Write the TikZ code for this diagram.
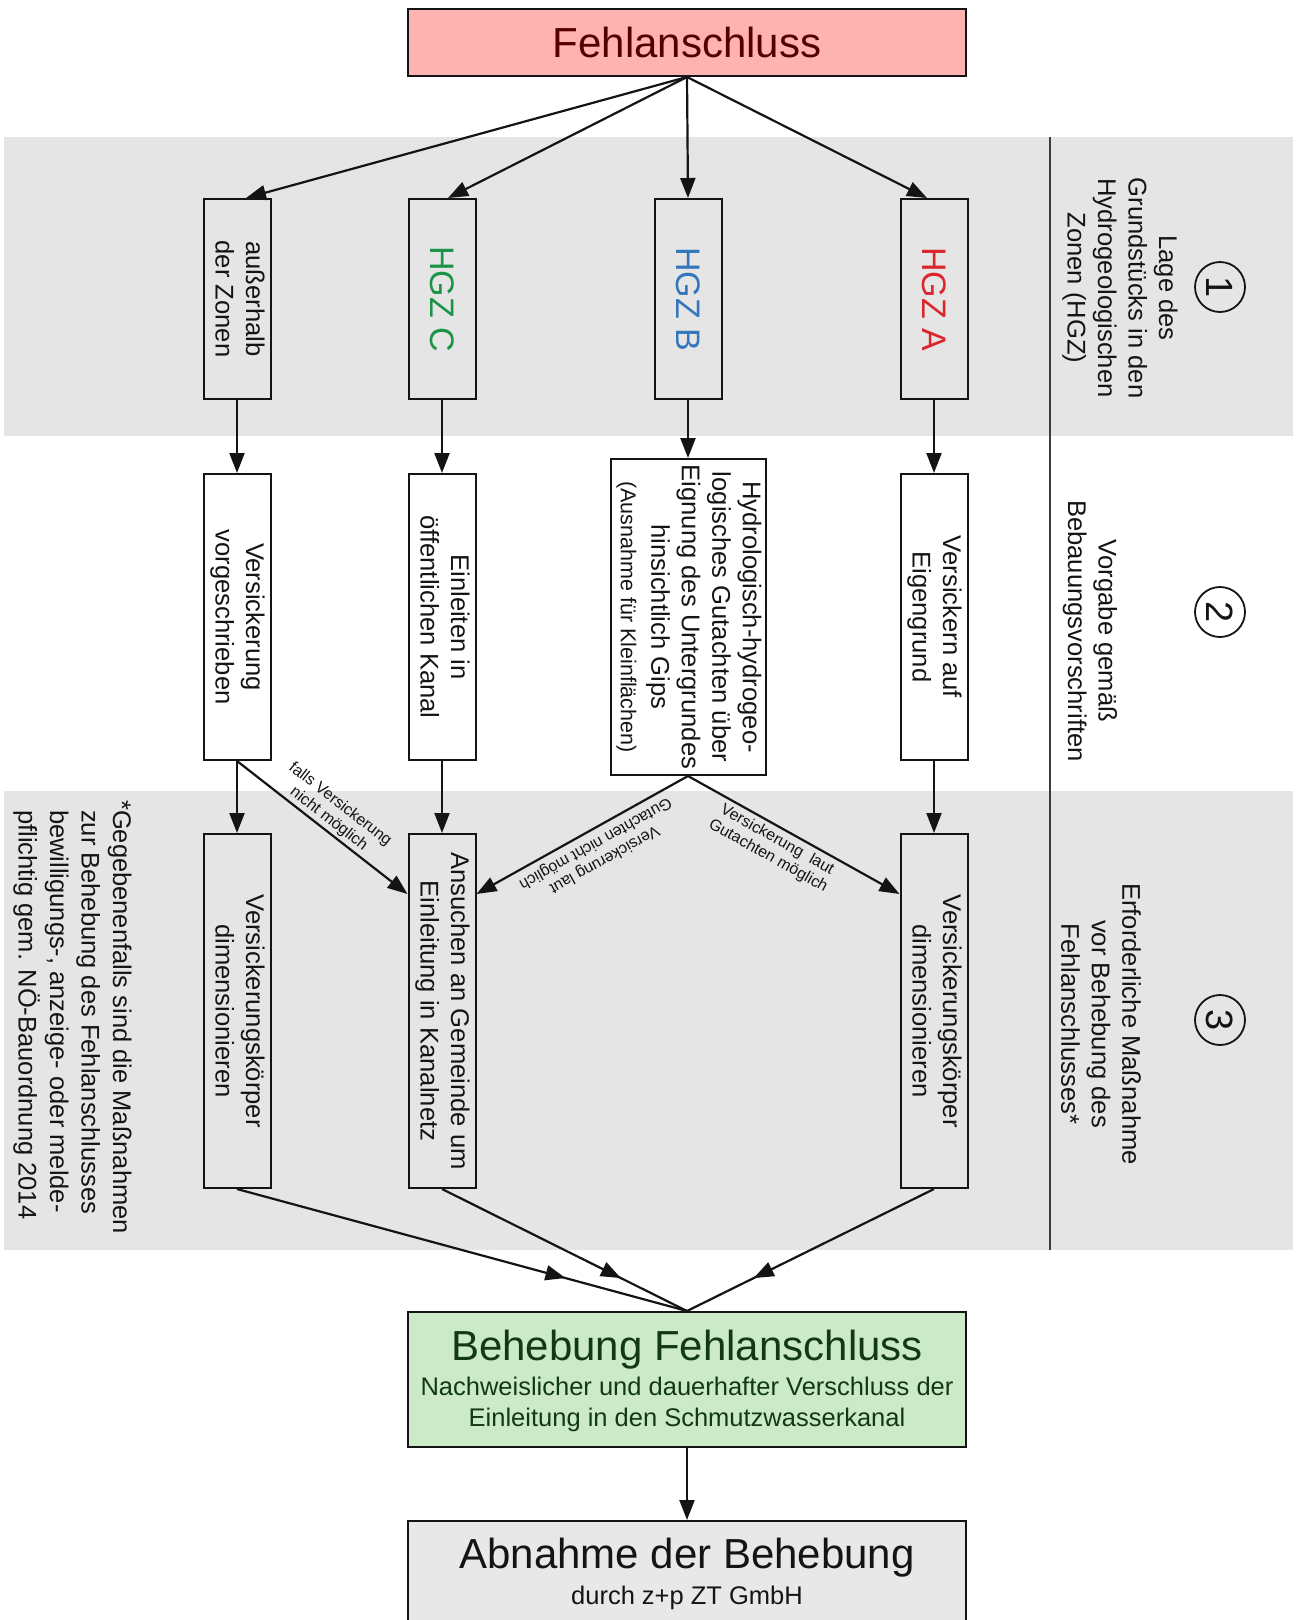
\documentclass[tikz,border=0pt]{standalone}
\usepackage{fontspec}
\setmainfont{Liberation Sans}
\usepackage{graphicx}
\usetikzlibrary{arrows.meta,decorations.markings}
\definecolor{bandgray}{RGB}{229,229,229}
\definecolor{pinkfill}{RGB}{255,178,178}
\definecolor{pinktext}{RGB}{85,0,0}
\definecolor{greenfill}{RGB}{205,234,200}
\definecolor{greentext}{RGB}{18,58,18}
\definecolor{abngray}{RGB}{232,232,232}
\definecolor{linec}{RGB}{20,20,20}
\definecolor{sepc}{RGB}{60,60,60}
\definecolor{hgzA}{RGB}{218,38,44}
\definecolor{hgzB}{RGB}{52,118,188}
\definecolor{hgzC}{RGB}{28,148,70}
\definecolor{txt}{RGB}{20,20,20}
\newcommand{\rotlines}[1]{\rotatebox{-90}{\begin{tabular}{@{}c@{}}#1\end{tabular}}}
\begin{document}
\begin{tikzpicture}[x=1pt,y=-1pt,
  box/.style={draw=linec, line width=2pt, inner sep=0pt, text=txt, font=\fontsize{25.6}{30.5}\selectfont},
  hgz/.style={box, font=\fontsize{34}{40}\selectfont},
  rowa/.style={minimum width=67pt, minimum height=200pt},
  rowb/.style={minimum width=67pt, minimum height=286pt},
  rowc/.style={minimum width=67pt, minimum height=354pt},
  wide/.style={minimum width=558pt},
  con/.style={draw=linec, line width=2.2pt, -{Triangle[length=20pt,width=15pt]}},
  midarrow/.style={draw=linec, line width=2.2pt, postaction={decorate},
    decoration={markings, mark=at position 0.73 with {\arrow{Triangle[length=20pt,width=15pt]}}}},
  lbl/.style={font=\fontsize{16}{18.5}\selectfont, align=center, inner sep=0pt, text=txt},
  sect/.style={rotate=-90, align=center, font=\fontsize{25.6}{30.5}\selectfont, text=txt, inner sep=0pt},
  circ/.style={circle, draw=linec, line width=1.8pt, minimum size=50pt, inner sep=0pt, font=\fontsize{38}{44}\selectfont, text=txt},
  btitle/.style={anchor=base, inner sep=0pt, font=\fontsize{42}{48}\selectfont},
  bsub/.style={anchor=base, inner sep=0pt, font=\fontsize{25.5}{31}\selectfont}
]
\useasboundingbox (0,0) rectangle (1299,1620);
\clip (0,0) rectangle (1299,1620);
% background bands
\fill[bandgray] (4,137) rectangle (1293,436);
\fill[bandgray] (4,791) rectangle (1293,1250);
\draw[sepc, line width=2pt] (1050,137) -- (1050,1250);

% top
\node[box, wide, minimum height=67pt, fill=pinkfill, text=pinktext, font=\fontsize{42}{48}\selectfont] (fehl) at (687,42.5) {Fehlanschluss};

% row 1
\node[box, rowa] (aus) at (237,299) {\rotlines{außerhalb\\der Zonen}};
\node[hgz, rowa, text=hgzC] (hgzc) at (442,299) {\rotatebox{-90}{HGZ C}};
\node[hgz, rowa, text=hgzB] (hgzb) at (688,299) {\rotatebox{-90}{HGZ B}};
\node[hgz, rowa, text=hgzA] (hgza) at (934,299) {\rotatebox{-90}{HGZ A}};

% row 2
\node[box, rowb] (vv) at (237,617) {\rotlines{Versickerung\\vorgeschrieben}};
\node[box, rowb] (ein) at (442,617) {\rotlines{Einleiten in\\öffentlichen Kanal}};
\node[box, minimum width=155pt, minimum height=316pt] (hyd) at (688,617) {\rotlines{Hydrologisch-hydrogeo-\\logisches Gutachten über\\Eignung des Untergrundes\\hinsichtlich Gips\\{\fontsize{21.5}{25}\selectfont(Ausnahme für Kleinflächen)}}};
\node[box, rowb] (vae) at (934,617) {\rotlines{Versickern auf\\Eigengrund}};

% row 3
\node[box, rowc] (vk1) at (237,1011) {\rotlines{Versickerungskörper\\dimensionieren}};
\node[box, rowc] (ans) at (442,1011) {\rotlines{Ansuchen an Gemeinde um\\Einleitung in Kanalnetz}};
\node[box, rowc] (vk2) at (934,1011) {\rotlines{Versickerungskörper\\dimensionieren}};

% result boxes
\node[box, wide, minimum height=135pt, fill=greenfill] (beh) at (687,1379.5) {};
\node[btitle, text=greentext] (behT) at (687,1360) {Behebung Fehlanschluss};
\node[bsub, text=greentext] (behS1) at (687,1395) {Nachweislicher und dauerhafter Verschluss der};
\node[bsub, text=greentext] (behS2) at (687,1426) {Einleitung in den Schmutzwasserkanal};

\node[box, wide, minimum height=120pt, fill=abngray] (abn) at (687,1581) {};
\node[btitle, text=txt] (abnT) at (687,1568) {Abnahme der Behebung};
\node[bsub, text=txt] (abnS) at (687,1604) {durch z+p ZT GmbH};

% section labels
\node[circ] (c1) at (1220,287) {\rotatebox{-90}{1}};
\node[circ] (c2) at (1220,612) {\rotatebox{-90}{2}};
\node[circ] (c3) at (1220,1020) {\rotatebox{-90}{3}};
\node[sect] (s1) at (1120,288) {Lage des\\Grundstücks in den\\Hydrogeologischen\\Zonen (HGZ)};
\node[sect] (s2) at (1090,631) {Vorgabe gemäß\\Bebauungsvorschriften};
\node[sect] (s3) at (1101,1024) {Erforderliche Maßnahme\\vor Behebung des\\Fehlanschlusses*};
\node[rotate=-90, align=left, inner sep=0pt, text=txt, font=\fontsize{25.5}{31.5}\selectfont] (fn) at (72.5,1022)
  {\llap{*}Gegebenenfalls sind die Maßnahmen\\zur Behebung des Fehlanschlusses\\bewilligungs-, anzeige- oder melde-\\pflichtig gem. NÖ-Bauordnung 2014};

% connectors
\draw[con] (fehl.south) -- ([xshift=9pt]aus.north);
\draw[con] (fehl.south) -- ([xshift=6pt]hgzc.north);
\draw[con] (fehl.south) -- (hgzb.north);
\draw[con] (fehl.south) -- ([xshift=-7pt]hgza.north);

\draw[con] (aus.south) -- (vv.north);
\draw[con] (hgzc.south) -- (ein.north);
\draw[con] (hgzb.south) -- (hyd.north);
\draw[con] (hgza.south) -- (vae.north);

\draw[con] (vv.south) -- (vk1.north);
\draw[con] (ein.south) -- (ans.north);
\draw[con] (vae.south) -- (vk2.north);

\draw[con] (vv.south) -- node[lbl, pos=0.5, sloped, above=2pt] (l1) {falls Versickerung\\nicht möglich} ([yshift=-61pt]ans.north west);
\draw[con] (hyd.south) -- node[lbl, pos=0.47, sloped, allow upside down, above=5pt] (l2) {Versickerung laut\\Gutachten nicht möglich} ([yshift=-61pt]ans.north east);
\draw[con] (hyd.south) -- node[lbl, pos=0.45, sloped, below=4pt] (l3) {Versickerung\ \ laut\\Gutachten möglich} ([yshift=-61pt]vk2.north west);

\draw[midarrow] (vk1.south) -- (beh.north);
\draw[midarrow] (ans.south) -- (beh.north);
\draw[midarrow] (vk2.south) -- (beh.north);

\draw[con] (beh.south) -- (abn.north);
\end{tikzpicture}
\end{document}
